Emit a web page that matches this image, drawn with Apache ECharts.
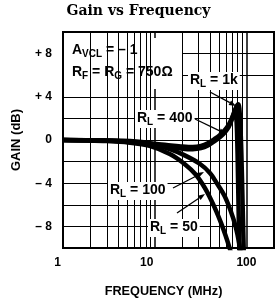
<!DOCTYPE html>
<html>
<head>
<meta charset="utf-8">
<script src="https://cdn.jsdelivr.net/npm/echarts@6/dist/echarts.min.js"></script>
<style>
html, body { margin: 0; padding: 0; background: #fff; }
#chart { width: 277px; height: 304px; }
</style>
</head>
<body>
<div id="chart"></div>
<script>
// axis ticks
var freqTicks = [1, 10, 100];
var freqLabels = ['1', '10', '100'];
var freqMinor = [2, 3, 4, 5, 6, 7, 8, 9, 20, 30, 40, 50, 60, 70, 80, 90];
var gainTicks = [8, 4, 0, -4, -8];
var gainLabels = ['+ 8', '+ 4', '0', '– 4', '– 8'];

// curves (MHz, dB)
var freq1k = [1, 2, 4, 6, 10, 15, 20, 26, 32, 38, 45, 52, 58, 64, 70, 75, 79, 82, 85, 88, 91, 94];
var gain1k = [0, -0.02, -0.1, -0.2, -0.35, -0.5, -0.6, -0.65, -0.55, -0.3, 0.1, 0.5, 0.9, 1.4, 2.1, 2.8, 3.2, 3.3, 2.2, -1, -6, -11];
var freq400 = [1, 2, 4, 6, 10, 15, 20, 26, 32, 38, 45, 52, 58, 64, 68, 72, 75, 77, 79, 81, 84];
var gain400 = [0, -0.03, -0.12, -0.25, -0.45, -0.65, -0.8, -0.85, -0.75, -0.5, -0.1, 0.3, 0.7, 1.2, 1.7, 2.3, 2.6, 2.4, 0.8, -3.5, -11];
var freq100 = [1, 3, 5.4, 8.8, 14.6, 21, 31, 40, 48, 58, 67, 76, 84, 88];
var gain100 = [0, -0.05, -0.1, -0.3, -0.85, -1.4, -2.2, -3.05, -4.05, -5.2, -6.5, -7.95, -9.7, -11];
var freq50 = [1, 3, 5.4, 8.8, 14.6, 21, 28, 35, 41, 47, 53, 59, 65, 71, 75];
var gain50 = [0, -0.1, -0.25, -0.55, -1.3, -2.2, -3.2, -4.4, -5.5, -6.6, -7.7, -8.8, -9.9, -11, -12];

var SANS = 'Liberation Sans';

function pairs(xs, ys) {
    var arr = [];
    for (var i = 0; i < xs.length; i++) {
        arr.push([xs[i], ys[i]]);
    }
    return arr;
}

function curve(name, xs, ys) {
    return {
        type: 'line',
        name: name,
        data: pairs(xs, ys),
        symbol: 'none',
        smooth: 0.3,
        z: 3,
        lineStyle: { color: '#000', width: 4.5 }
    };
}

// R_L style labels, subscript sits a little lower
var sub = {
    r: { fontSize: 14, fontWeight: 'bold', fontFamily: SANS, color: '#000', lineHeight: 16, verticalAlign: 'top' },
    s: { fontSize: 10, fontWeight: 'bold', fontFamily: SANS, color: '#000', lineHeight: 16, verticalAlign: 'bottom' }
};

function note(text, left, top, boxed) {
    return {
        text: text,
        left: left,
        top: top,
        padding: boxed ? [1, 2] : 0,
        backgroundColor: boxed ? '#fff' : 'transparent',
        textStyle: { rich: sub }
    };
}

function arrow(x1, y1, x2, y2) {
    var dx = x2 - x1, dy = y2 - y1;
    var len = Math.sqrt(dx * dx + dy * dy);
    var ux = dx / len, uy = dy / len;
    var bx = x2 - ux * 7, by = y2 - uy * 7;
    return [
        { type: 'line', z: 20, shape: { x1: x1, y1: y1, x2: bx, y2: by }, style: { stroke: '#000', lineWidth: 1.3 } },
        { type: 'polygon', z: 20, shape: { points: [[x2, y2], [bx - uy * 2.6, by + ux * 2.6], [bx + uy * 2.6, by - ux * 2.6]] }, style: { fill: '#000' } }
    ];
}

var chart = echarts.init(document.getElementById('chart'), null, { renderer: 'canvas' });

var option = {
    animation: false,
    backgroundColor: '#fff',
    title: [
        { text: 'Gain vs Frequency', left: 'center', top: 4, padding: 0,
          textStyle: { fontFamily: 'DejaVu Serif', fontWeight: 'bold', fontSize: 14, color: '#000' } },
        note('{r|A}{s|VCL}{r| = – 1}', 72, 43, false),
        note('{r|R}{s|F}{r| = R}{s|G}{r| = 750Ω}', 72, 65, false),
        note('{r|R}{s|L}{r| = 1k}', 188, 72, true),
        note('{r|R}{s|L}{r| = 400}', 135, 110, true),
        note('{r|R}{s|L}{r| = 100}', 108, 182, true),
        note('{r|R}{s|L}{r| = 50}', 148, 219, true)
    ],
    grid: {
        left: 63, top: 32, width: 212, height: 216,
        show: true, borderColor: '#000', borderWidth: 2, backgroundColor: 'transparent'
    },
    xAxis: {
        type: 'log', logBase: 10, min: 1, max: 200,
        axisLine: { show: false },
        axisTick: { show: false },
        splitLine: { show: true, lineStyle: { color: '#000', width: 1.5 } },
        axisLabel: {
            margin: 9,
            formatter: function (v) {
                var i = freqTicks.indexOf(Math.round(v));
                return i < 0 ? '' : '{t' + i + '|' + freqLabels[i] + '}';
            },
            rich: {
                t0: { fontSize: 12, fontWeight: 'bold', fontFamily: SANS, color: '#000', padding: [0, 11, 0, 0] },
                t1: { fontSize: 12, fontWeight: 'bold', fontFamily: SANS, color: '#000', padding: [0, 16, 0, 0] },
                t2: { fontSize: 12, fontWeight: 'bold', fontFamily: SANS, color: '#000' }
            }
        },
        name: 'FREQUENCY (MHz)',
        nameLocation: 'middle',
        nameGap: 37,
        nameTextStyle: { fontSize: 12.7, fontWeight: 'bold', fontFamily: SANS, color: '#000', padding: [0, 10, 0, 0] }
    },
    yAxis: {
        type: 'value', min: -10, max: 10, interval: 2,
        axisLine: { show: false },
        axisTick: { show: false },
        splitLine: { show: true, lineStyle: { color: '#000', width: 1 } },
        axisLabel: {
            margin: 11,
            fontSize: 12, fontWeight: 'bold', fontFamily: SANS, color: '#000',
            formatter: function (v) {
                var i = gainTicks.indexOf(v);
                return i < 0 ? '' : gainLabels[i];
            }
        },
        name: 'GAIN (dB)',
        nameLocation: 'middle',
        nameRotate: 90,
        nameGap: 40,
        nameTextStyle: { fontSize: 13, fontWeight: 'bold', fontFamily: SANS, color: '#000' }
    },
    series: [
        {
            type: 'line',
            name: 'grid',
            data: [],
            z: 1,
            silent: true,
            markLine: {
                silent: true,
                symbol: ['none', 'none'],
                label: { show: false },
                lineStyle: { color: '#000', width: 1, type: 'solid' },
                data: freqMinor.map(function (f) { return { xAxis: f }; })
            }
        },
        curve('RL = 1k', freq1k, gain1k),
        curve('RL = 400', freq400, gain400),
        curve('RL = 100', freq100, gain100),
        curve('RL = 50', freq50, gain50)
    ],
    graphic: [
        // blank patch behind the test conditions text
        { type: 'rect', z: 5, shape: { x: 64, y: 38, width: 119, height: 51 }, style: { fill: '#fff' } }
    ]
        .concat(arrow(210, 92, 236, 106))
        .concat(arrow(195, 119, 226, 134))
        .concat(arrow(173, 188, 204, 172))
        .concat(arrow(177, 213, 205, 194))
};

chart.setOption(option);
</script>
</body>
</html>
